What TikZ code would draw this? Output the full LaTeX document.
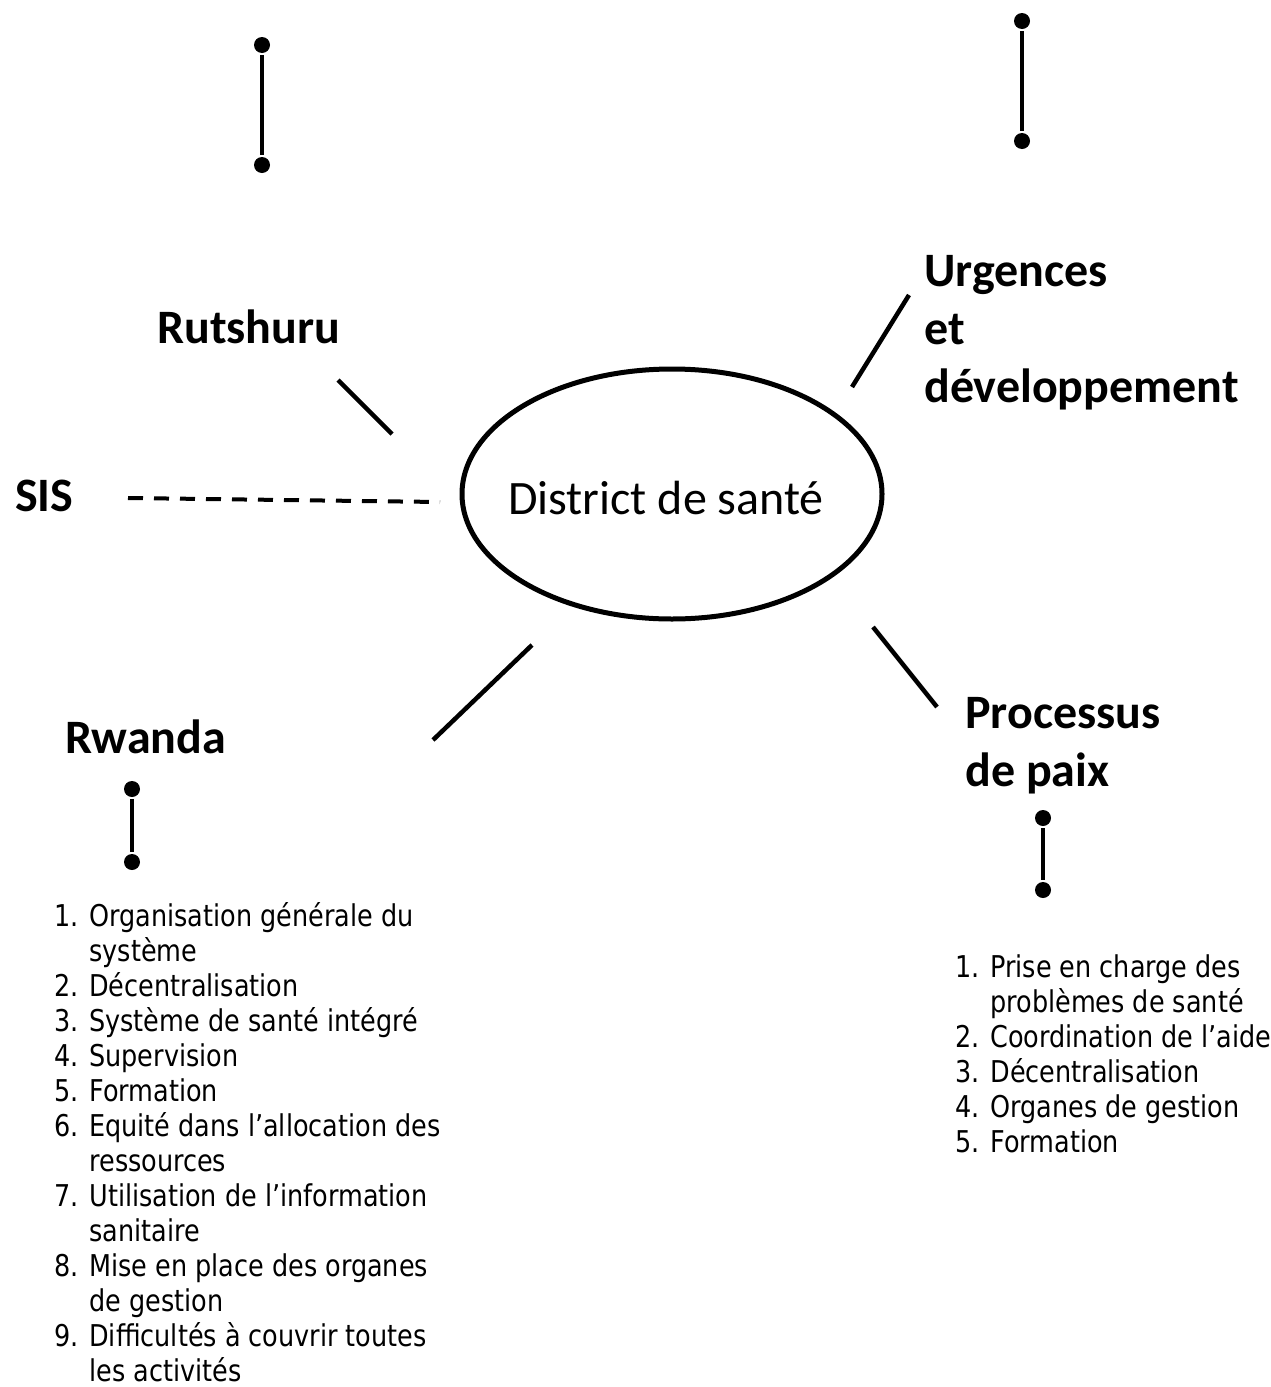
\documentclass[tikz,border=0pt]{standalone}
\usepackage{fontspec}
\setmainfont{Carlito}
\newfontfamily\listfont[FakeStretch=0.85]{DejaVu Sans}
\usetikzlibrary{shapes.geometric}

\begin{document}
\begin{tikzpicture}[x=1pt,y=-1pt,line width=4.5pt,
  lbl/.style={anchor=base west,inner sep=0pt,align=left,font=\bfseries\fontsize{48}{58}\selectfont},
  lst/.style={anchor=base west,inner sep=0pt,align=left,font=\listfont\fontsize{30}{35}\selectfont},
  dot/.style={circle,fill,inner sep=0pt,minimum size=16pt}]
\useasboundingbox (0,0) rectangle (1270,1387);

\node[ellipse,draw,line width=5pt,inner sep=0pt,minimum width=420pt,minimum height=250pt] (DS) at (672,494) {};
\node[anchor=base,inner sep=0pt,font=\fontsize{48}{58}\selectfont] (DStxt) at (666,514) {District de santé};

% multi-line nodes sit on the baseline of their last line
\node[lbl] (RU) at (155,343) {Rutshuru};
\node[lbl] (SIS) at (13,511) {SIS};
\node[lbl] (UD) at (922,402) {Urgences\\et\\développement};
\node[lbl] (RW) at (63,753) {Rwanda};
\node[lbl] (PP) at (963,786) {Processus\\de paix};

% spokes round the district
\coordinate (ru1) at (338,380);  \coordinate (ru2) at (392,434);
\coordinate (sis1) at (128,498); \coordinate (sis2) at (440,502);
\coordinate (ud1) at (909,295);  \coordinate (ud2) at (852,387);
\coordinate (rw1) at (532,645);  \coordinate (rw2) at (433,740);
\coordinate (pp1) at (873,627);  \coordinate (pp2) at (937,707);

\draw (ru1) -- (ru2);
\draw[line width=4pt,dash pattern=on 15pt off 11pt] (sis1) -- (sis2);
\draw (ud1) -- (ud2);
\draw (rw1) -- (rw2);
\draw (pp1) -- (pp2);

% pins
\node[dot] (ta) at (262,45) {};   \node[dot] (tb) at (262,165) {};
\node[dot] (sa) at (1022,21) {};  \node[dot] (sb) at (1022,141) {};
\node[dot] (wa) at (132,789) {};  \node[dot] (wb) at (132,862) {};
\node[dot] (xa) at (1043,818) {}; \node[dot] (xb) at (1043,890) {};
\draw (ta) -- (tb);
\draw (sa) -- (sb);
\draw (wa) -- (wb);
\draw (xa) -- (xb);

\node[lst] (LRW) at (52,1381) {1. Organisation générale du\\\phantom{1. }système\\
2. Décentralisation\\3. Système de santé intégré\\4. Supervision\\5. Formation\\
6. Equité dans l’allocation des\\\phantom{6. }ressources\\
7. Utilisation de l’information\\\phantom{7. }sanitaire\\
8. Mise en place des organes\\\phantom{8. }de gestion\\
9. Difficultés à couvrir toutes\\\phantom{9. }les activités};

\node[lst] (LPP) at (953,1152) {1. Prise en charge des\\\phantom{1. }problèmes de santé\\
2. Coordination de l’aide\\3. Décentralisation\\4. Organes de gestion\\5. Formation};
\end{tikzpicture}
\end{document}
